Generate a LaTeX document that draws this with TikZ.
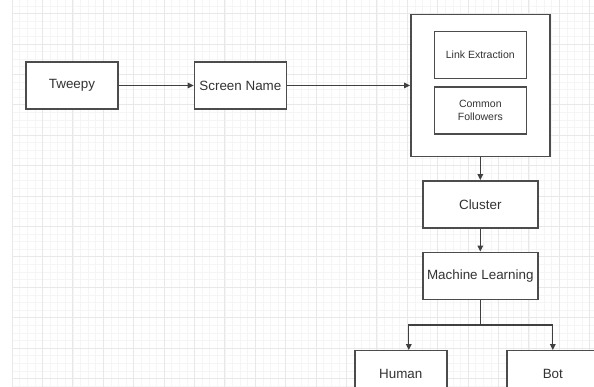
\documentclass[tikz,border=0pt]{standalone}
\usepackage{fontspec}
\setmainfont{Liberation Sans}
\usetikzlibrary{arrows.meta,positioning}

\begin{document}
\begin{tikzpicture}[
  x=1pt, y=-1pt,
  every node/.style={font=\fontsize{13.4}{16}\selectfont, text=black!80, align=center},
  box/.style={draw=black!70, line width=1.4pt, fill=white, minimum width=92pt, minimum height=47pt, inner sep=2pt},
  wide/.style={box, minimum width=115pt},
  frame/.style={box, minimum width=139pt, minimum height=142pt},
  small/.style={box, font=\fontsize{10.5}{13}\selectfont},
  flow/.style={-{Triangle[length=6pt,width=5.5pt]}, line width=1.3pt, draw=black!75},
  link/.style={line width=1.3pt, draw=black!75}
]
\useasboundingbox (0,0) rectangle (594,387);
\clip (0,0) rectangle (594,387);
% grid
\draw[black!4, line width=0.6pt, step=7.6pt, shift={(12,13.6)}] (0,-13.6) grid (582,373.4);
\draw[black!9, line width=0.7pt, step=30.4pt, shift={(12,13.6)}] (0,-13.6) grid (582,373.4);

\node[box] (tweepy) at (72,85.5) {Tweepy};
\node[box, right=75pt of tweepy] (screen) {Screen Name};
\node[frame, right=123pt of screen] (outer) {};
\node[small, below=17pt of outer.north] (extract) {Link Extraction};
\node[small, below=7pt of extract] (common) {Common\\Followers};
\node[wide, below=23pt of outer] (cluster) {Cluster};
\node[wide, below=23pt of cluster] (ml) {Machine Learning};
\node[box, below=50pt of ml.south, xshift=-79.5pt] (human) {Human};
\node[box, below=50pt of ml.south, xshift=72.5pt] (bot) {Bot};

\draw[flow] (tweepy) -- (screen);
\draw[flow] (screen) -- (outer);
\draw[flow] (outer) -- (cluster);
\draw[flow] (cluster) -- (ml);
\draw[link] (ml.south) -- ++(0,25) coordinate (split);
\draw[flow] (split) -| ([xshift=8pt]human.north);
\draw[flow] (split) -| (bot.north);
\end{tikzpicture}
\end{document}
